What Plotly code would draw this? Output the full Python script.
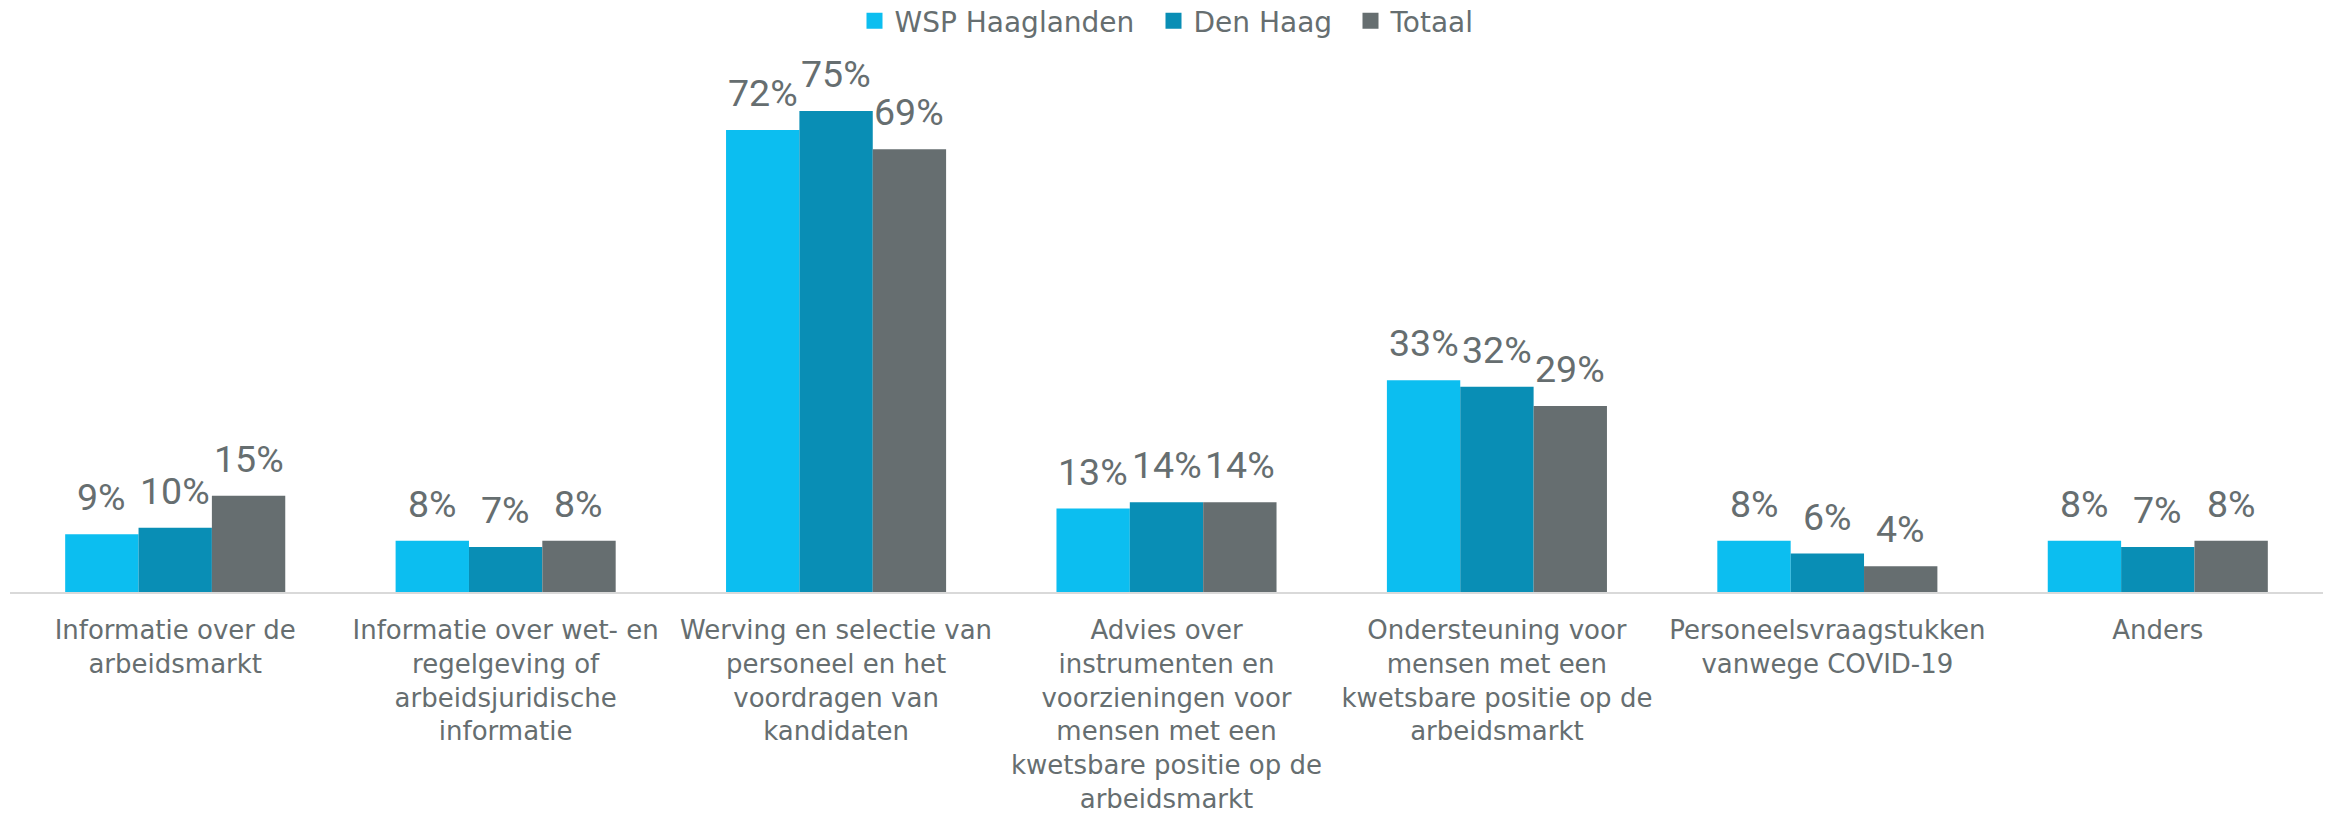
import plotly.graph_objects as go

categories = [
    "Informatie over de<br>arbeidsmarkt",
    "Informatie over wet- en<br>regelgeving of<br>arbeidsjuridische<br>informatie",
    "Werving en selectie van<br>personeel en het<br>voordragen van<br>kandidaten",
    "Advies over<br>instrumenten en<br>voorzieningen voor<br>mensen met een<br>kwetsbare positie op de<br>arbeidsmarkt",
    "Ondersteuning voor<br>mensen met een<br>kwetsbare positie op de<br>arbeidsmarkt",
    "Personeelsvraagstukken<br>vanwege COVID-19",
    "Anders",
]
series_names = ["WSP Haaglanden", "Den Haag", "Totaal"]
wsp_haaglanden = [9, 8, 72, 13, 33, 8, 8]
den_haag = [10, 7, 75, 14, 32, 6, 7]
totaal = [15, 8, 69, 14, 29, 4, 8]
colors = ["#0CBEF0", "#098EB5", "#666E70"]
text_color = "#666E70"

W, H = 2325, 814
ml, mr, mt, mb = 10, 2, 60, 222
bargap = 0.334
px_per_pct = 6.415
plot_w = W - ml - mr
plot_h = H - mt - mb
ymax = plot_h / px_per_pct
slot = plot_w / len(categories)
bar_w = slot * (1 - bargap) / 3

# pixel x of each legend swatch's left edge and legend top (page pixels)
legend_swatch_px = [866, 1165, 1362]
legend_top_px = -4

label_font = dict(family="Roboto, Liberation Sans, sans-serif", size=37.5, color=text_color)
main_font = "DejaVu Sans, Verdana, sans-serif"
legend_ids = ["legend", "legend2", "legend3"]

fig = go.Figure()
for i, (name, vals, col) in enumerate(zip(series_names, [wsp_haaglanden, den_haag, totaal], colors)):
    fig.add_trace(go.Bar(x=categories, y=vals, name=name,
                         marker=dict(color=col, line=dict(width=0)),
                         showlegend=False, hoverinfo="skip"))
    fig.add_trace(go.Scatter(x=[None], y=[None], mode="markers", name=name,
                             legend=legend_ids[i],
                             marker=dict(symbol="square", size=17, color=col)))
    for c, v in zip(categories, vals):
        fig.add_annotation(x=c, y=v, text=f"{v}%", xshift=(i - 1) * bar_w, yshift=13,
                           yanchor="bottom", xanchor="center", showarrow=False, font=label_font)

legend_style = dict(orientation="h", xanchor="left", yanchor="top",
                    y=(H - mb - legend_top_px) / plot_h,
                    font=dict(family=main_font, size=28, color=text_color),
                    bgcolor="rgba(0,0,0,0)", itemclick=False, itemdoubleclick=False)
legend_layout = {}
for lid, sx in zip(legend_ids, legend_swatch_px):
    legend_layout[lid] = dict(legend_style, x=(sx - 11.5 - ml) / plot_w)

fig.update_layout(
    width=W, height=H,
    margin=dict(l=ml, r=mr, t=mt, b=mb, autoexpand=False),
    barmode="group", bargap=bargap, bargroupgap=0,
    plot_bgcolor="white", paper_bgcolor="white",
    xaxis=dict(showline=True, linecolor="#D9D9D9", linewidth=1.5, showgrid=False,
               ticks="", ticklabelstandoff=14, automargin=False, fixedrange=True,
               tickfont=dict(family=main_font, size=26, color=text_color)),
    yaxis=dict(range=[0, ymax], visible=False, showgrid=False, automargin=False, fixedrange=True),
    **legend_layout,
)

fig.write_html("out.html", config={"displayModeBar": False},
               post_script="document.body.style.margin='0px';")
